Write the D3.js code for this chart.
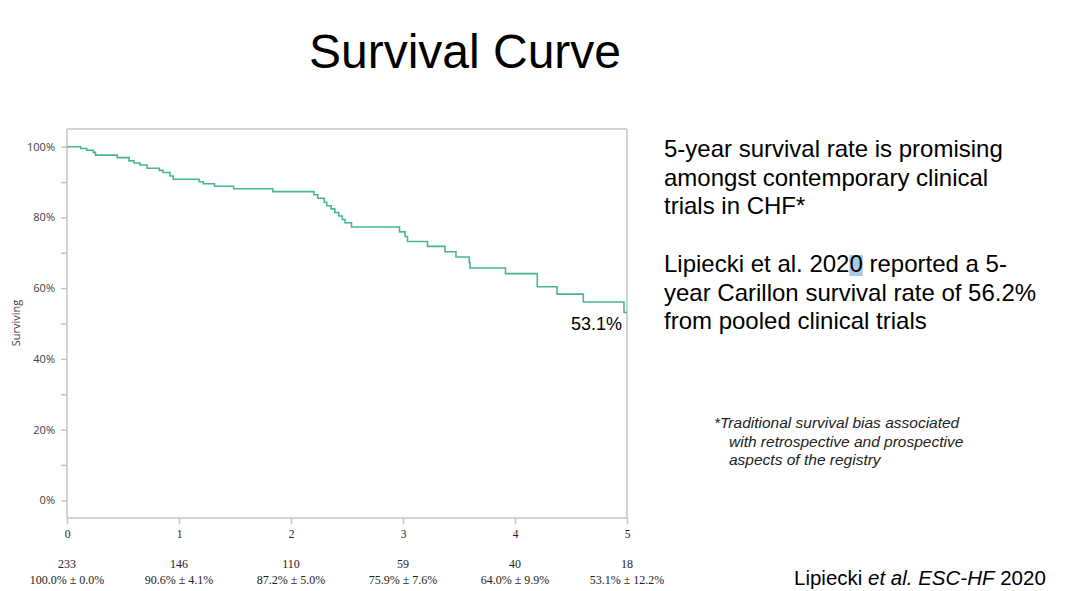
<!DOCTYPE html>
<html>
<head>
<meta charset="utf-8">
<script src="https://cdn.jsdelivr.net/npm/d3@7"></script>
<style>
  body { margin: 0; background: #fff; }
  svg { display: block; }
</style>
</head>
<body>
<svg width="1080" height="591"></svg>
<script>
// survival steps (years, % surviving)
var times = [0, 0.122, 0.176, 0.235, 0.254, 0.449, 0.554, 0.598, 0.652, 0.714, 0.824, 0.857, 0.920, 0.949,
             1.179, 1.217, 1.317, 1.488, 1.837, 2.205, 2.239, 2.297, 2.319, 2.359, 2.391, 2.426, 2.458, 2.482, 2.54,
             2.969, 3.018, 3.04, 3.219, 3.375, 3.473, 3.592, 3.598, 3.915, 4.199, 4.375, 4.61, 4.973, 5];
var surv  = [100, 99.5, 99.0, 98.4, 97.6, 96.9, 96.0, 95.4, 94.8, 93.9, 93.3, 92.7, 91.7, 90.8,
             90.1, 89.5, 88.8, 88.1, 87.3, 86.4, 85.4, 84.3, 83.3, 82.4, 81.4, 80.4, 79.4, 78.5, 77.3,
             75.9, 74.6, 73.2, 71.8, 70.3, 68.8, 67.2, 65.7, 64.1, 60.4, 58.3, 56.1, 53.1, 53.1];

var yMajor = [0, 20, 40, 60, 80, 100];
var yMinor = [10, 30, 50, 70, 90];
var xTicks = [0, 1, 2, 3, 4, 5];
var atRisk = ["233", "146", "110", "59", "40", "18"];
var estimates = ["100.0% \u00b1 0.0%", "90.6% \u00b1 4.1%", "87.2% \u00b1 5.0%",
                 "75.9% \u00b1 7.6%", "64.0% \u00b1 9.9%", "53.1% \u00b1 12.2%"];

var svg = d3.select("svg");

// plot box
var pL = 67, pR = 627, pT = 129, pB = 518;

var x = d3.scaleLinear().domain([0, 5]).range([pL, pR]);
var y = d3.scaleLinear().domain([-5, 105]).range([pB, pT]);

var frameColor = "#c4c4c4";
var sans = "Liberation Sans, Arial, sans-serif";
var serif = "Liberation Serif, Times New Roman, serif";

// title
svg.append("text")
    .attr("x", 465).attr("y", 68)
    .attr("text-anchor", "middle")
    .style("font-family", sans)
    .style("font-size", "48px")
    .text("Survival Curve");

// frame (top and right)
svg.append("line").attr("x1", pL).attr("x2", pR).attr("y1", pT).attr("y2", pT)
    .attr("stroke", frameColor).attr("stroke-width", 1.5);
svg.append("line").attr("x1", pR).attr("x2", pR).attr("y1", pT).attr("y2", pB)
    .attr("stroke", frameColor).attr("stroke-width", 1.5);

// y axis
var yAxis = svg.append("g")
    .attr("transform", "translate(" + pL + ",0)")
    .call(d3.axisLeft(y).tickValues(yMajor).tickSize(6).tickFormat(function (d) { return d + "%"; }));
yAxis.select(".domain").attr("d", "M0," + pT + "V" + pB);
var yMin = svg.append("g")
    .attr("transform", "translate(" + pL + ",0)")
    .call(d3.axisLeft(y).tickValues(yMinor).tickSize(6).tickFormat(""));
yMin.select(".domain").remove();
yAxis.selectAll(".domain, .tick line").attr("stroke", frameColor).attr("stroke-width", 1.5);
yMin.selectAll(".tick line").attr("stroke", frameColor).attr("stroke-width", 1.5);
yAxis.selectAll(".tick text")
    .attr("x", -12)
    .style("font-family", "Open Sans, sans-serif")
    .style("font-size", "11px")
    .attr("fill", "#404040");

svg.append("text")
    .attr("transform", "translate(20,323) rotate(-90)")
    .attr("text-anchor", "middle")
    .style("font-family", "Open Sans, sans-serif")
    .style("font-size", "11px")
    .attr("fill", "#404040")
    .text("Surviving");

// x axis
var xAxis = svg.append("g")
    .attr("transform", "translate(0," + pB + ")")
    .call(d3.axisBottom(x).tickValues(xTicks).tickSize(6).tickFormat(d3.format("d")));
xAxis.select(".domain").attr("d", "M" + pL + ",0H" + pR).attr("stroke", frameColor).attr("stroke-width", 1.5);
xAxis.selectAll(".tick line").attr("stroke", frameColor).attr("stroke-width", 1.5);
xAxis.selectAll(".tick text")
    .attr("y", 12)
    .style("font-family", serif)
    .style("font-size", "11.5px")
    .attr("fill", "#222");

// number at risk / estimate rows
svg.append("g").selectAll("text")
    .data(xTicks).enter()
    .append("text")
    .attr("x", function (d) { return x(d); })
    .attr("y", 568)
    .attr("text-anchor", "middle")
    .style("font-family", serif)
    .style("font-size", "12px")
    .attr("fill", "#222")
    .text(function (d, i) { return atRisk[i]; });
svg.append("g").selectAll("text")
    .data(xTicks).enter()
    .append("text")
    .attr("x", function (d) { return x(d); })
    .attr("y", 584)
    .attr("text-anchor", "middle")
    .style("font-family", serif)
    .style("font-size", "12px")
    .attr("fill", "#222")
    .text(function (d, i) { return estimates[i]; });

// curve
var pts = times.map(function (t, i) { return [t, surv[i]]; });
var line = d3.line()
    .x(function (d) { return x(d[0]); })
    .y(function (d) { return y(d[1]); })
    .curve(d3.curveStepAfter);
svg.append("path")
    .datum(pts)
    .attr("fill", "none")
    .attr("stroke", "#45b892")
    .attr("stroke-width", 1.6)
    .attr("d", line);

svg.append("text")
    .attr("x", 622).attr("y", 330)
    .attr("text-anchor", "end")
    .style("font-family", sans)
    .style("font-size", "18px")
    .text("53.1%");

// right-hand notes
var body = ["5-year survival rate is promising", "amongst contemporary clinical", "trials in CHF*"];
var body2 = ["Lipiecki et al. 2020 reported a 5-", "year Carillon survival rate of 56.2%", "from pooled clinical trials"];

// selection highlight on the last "0" of 2020
var probe = svg.append("text").style("font-family", sans).style("font-size", "24px").text("Lipiecki et al. 202");
var wPre = probe.node().getComputedTextLength();
probe.text("0");
var wZero = probe.node().getComputedTextLength();
probe.remove();
svg.append("rect")
    .attr("x", 664 + wPre).attr("y", 255)
    .attr("width", wZero).attr("height", 21)
    .attr("fill", "#a9cbe6");

svg.append("g").selectAll("text")
    .data(body).enter().append("text")
    .attr("x", 664).attr("y", function (d, i) { return 157 + i * 28.5; })
    .style("font-family", sans).style("font-size", "24px")
    .text(function (d) { return d; });
svg.append("g").selectAll("text")
    .data(body2).enter().append("text")
    .attr("x", 664).attr("y", function (d, i) { return 272 + i * 28.5; })
    .style("font-family", sans).style("font-size", "24px")
    .text(function (d) { return d; });

var note = ["*Traditional survival bias associated", "with retrospective and prospective", "aspects of the registry"];
svg.append("g").selectAll("text")
    .data(note).enter().append("text")
    .attr("x", function (d, i) { return i == 0 ? 714 : 729; })
    .attr("y", function (d, i) { return 428 + i * 18.5; })
    .style("font-family", sans).style("font-size", "15.5px").style("font-style", "italic")
    .attr("fill", "#222")
    .text(function (d) { return d; });

var cite = svg.append("text")
    .attr("x", 794).attr("y", 585)
    .style("font-family", sans).style("font-size", "20.5px");
cite.append("tspan").text("Lipiecki ");
cite.append("tspan").style("font-style", "italic").text("et al. ESC-HF");
cite.append("tspan").text(" 2020");
</script>
</body>
</html>
